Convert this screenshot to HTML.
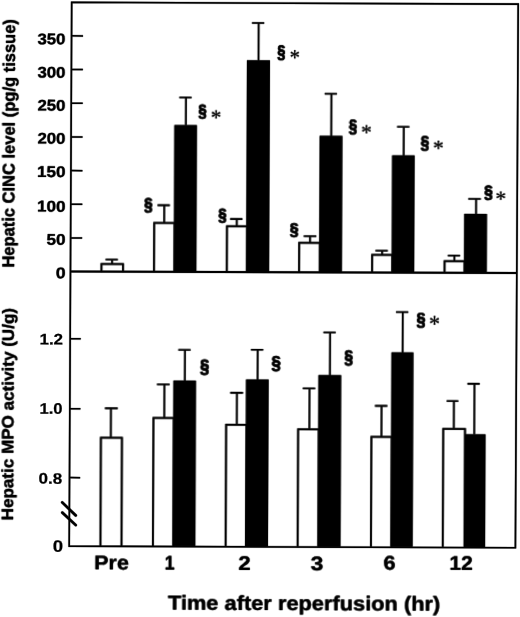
<!DOCTYPE html>
<html><head><meta charset="utf-8"><title>Figure</title>
<style>
html,body{margin:0;padding:0;background:#fff;}
body{width:520px;height:617px;overflow:hidden;}
svg{display:block;}
text{stroke:#000;stroke-linejoin:round;}
.b{font-family:"Liberation Sans",sans-serif;font-weight:bold;fill:#000;}
.s{font-family:"Liberation Serif",serif;fill:#000;}
</style></head>
<body>
<svg width="520" height="617" viewBox="0 0 520 617" text-rendering="geometricPrecision">
<rect width="520" height="617" fill="#fff"/>
<defs><filter id="soft" x="0" y="0" width="520" height="617" filterUnits="userSpaceOnUse"><feGaussianBlur stdDeviation="0.3"/></filter>
<g id="c"><g transform="rotate(0.2406 260.0 300.0)">
<path d="M101.34 272.31V264.65H122.89V272.31" fill="none" stroke="#000" stroke-width="1.75" stroke-linejoin="miter"/>
<path d="M111.94 264.27V260.22M105.43 260.22H117.63" stroke="#000" stroke-width="1.6" fill="none"/>
<path d="M153.85 272.26V223.43H174.35V272.26" fill="none" stroke="#000" stroke-width="1.75" stroke-linejoin="miter"/>
<path d="M163.84 223.05V205.60M157.20 205.60H169.40" stroke="#000" stroke-width="1.6" fill="none"/>
<rect x="173.67" y="125.41" width="22.50" height="146.82" fill="#000"/>
<path d="M185.16 125.81V97.71M178.50 97.71H190.70" stroke="#000" stroke-width="1.6" fill="none"/>
<path d="M226.66 272.19V226.27H246.76V272.19" fill="none" stroke="#000" stroke-width="1.75" stroke-linejoin="miter"/>
<path d="M236.47 225.90V219.10M229.86 219.10H242.06" stroke="#000" stroke-width="1.6" fill="none"/>
<rect x="245.94" y="60.31" width="23.00" height="211.86" fill="#000"/>
<path d="M257.51 60.71V23.01M250.84 23.01H263.04" stroke="#000" stroke-width="1.6" fill="none"/>
<path d="M298.95 272.12V242.72H319.65V272.12" fill="none" stroke="#000" stroke-width="1.75" stroke-linejoin="miter"/>
<path d="M309.75 242.35V236.05M303.48 236.05H315.98" stroke="#000" stroke-width="1.6" fill="none"/>
<rect x="318.95" y="135.55" width="22.75" height="136.55" fill="#000"/>
<path d="M330.55 135.95V93.45M323.86 93.45H336.06" stroke="#000" stroke-width="1.6" fill="none"/>
<path d="M371.97 272.05V254.41H392.22V272.05" fill="none" stroke="#000" stroke-width="1.75" stroke-linejoin="miter"/>
<path d="M381.93 254.04V250.24M375.32 250.24H387.52" stroke="#000" stroke-width="1.6" fill="none"/>
<rect x="391.54" y="154.80" width="22.50" height="117.23" fill="#000"/>
<path d="M403.08 155.20V126.30M396.42 126.30H408.62" stroke="#000" stroke-width="1.6" fill="none"/>
<path d="M444.43 271.98V260.31H464.43V271.98" fill="none" stroke="#000" stroke-width="1.75" stroke-linejoin="miter"/>
<path d="M454.27 259.94V254.69M447.66 254.69H459.86" stroke="#000" stroke-width="1.6" fill="none"/>
<rect x="463.86" y="213.00" width="22.70" height="58.97" fill="#000"/>
<path d="M475.66 213.40V198.00M467.88 198.00H480.38" stroke="#000" stroke-width="1.6" fill="none"/>
<path d="M101.48 546.93V438.35H122.53V546.93" fill="none" stroke="#000" stroke-width="1.75" stroke-linejoin="miter"/>
<path d="M111.42 437.97V408.92M105.45 408.92H118.15" stroke="#000" stroke-width="1.6" fill="none"/>
<path d="M153.94 546.89V418.33H174.34V546.89" fill="none" stroke="#000" stroke-width="1.75" stroke-linejoin="miter"/>
<path d="M164.72 417.96V384.71M157.35 384.71H169.95" stroke="#000" stroke-width="1.6" fill="none"/>
<rect x="173.79" y="380.92" width="22.50" height="165.96" fill="#000"/>
<path d="M185.22 381.32V350.32M178.56 350.32H190.76" stroke="#000" stroke-width="1.6" fill="none"/>
<path d="M226.65 546.85V424.78H246.95V546.85" fill="none" stroke="#000" stroke-width="1.75" stroke-linejoin="miter"/>
<path d="M237.36 424.40V392.90M230.69 392.90H243.39" stroke="#000" stroke-width="1.6" fill="none"/>
<rect x="246.38" y="379.51" width="22.60" height="167.32" fill="#000"/>
<path d="M257.87 379.91V349.81M251.21 349.81H263.41" stroke="#000" stroke-width="1.6" fill="none"/>
<path d="M298.66 546.81V429.23H319.36V546.81" fill="none" stroke="#000" stroke-width="1.75" stroke-linejoin="miter"/>
<path d="M309.86 428.85V388.20M303.17 388.20H315.57" stroke="#000" stroke-width="1.6" fill="none"/>
<rect x="318.78" y="374.81" width="22.70" height="171.98" fill="#000"/>
<path d="M330.28 375.21V332.21M323.59 332.21H335.79" stroke="#000" stroke-width="1.6" fill="none"/>
<path d="M371.98 546.76V436.42H392.38V546.76" fill="none" stroke="#000" stroke-width="1.75" stroke-linejoin="miter"/>
<path d="M382.01 436.04V405.39M375.44 405.39H387.74" stroke="#000" stroke-width="1.6" fill="none"/>
<rect x="391.73" y="351.80" width="21.90" height="194.94" fill="#000"/>
<path d="M402.79 352.20V311.50M396.10 311.50H408.30" stroke="#000" stroke-width="1.6" fill="none"/>
<path d="M443.76 546.72V428.01H465.56V546.72" fill="none" stroke="#000" stroke-width="1.75" stroke-linejoin="miter"/>
<path d="M454.38 427.64V400.19M447.12 400.19H458.72" stroke="#000" stroke-width="1.6" fill="none"/>
<rect x="465.10" y="433.40" width="21.00" height="113.30" fill="#000"/>
<path d="M474.76 433.80V382.90M467.85 382.90H480.05" stroke="#000" stroke-width="1.6" fill="none"/>
<text transform="translate(55.73 279.03) scale(0.17660 0.15493)" font-size="100" class="b" stroke-width="0.90">0</text>
<path d="M70.3 238.78H81.90" stroke="#000" stroke-width="1.5"/>
<text transform="translate(46.28 245.65) scale(0.17115 0.15493)" font-size="100" class="b" stroke-width="0.92">50</text>
<path d="M70.3 205.09H81.90" stroke="#000" stroke-width="1.5"/>
<text transform="translate(36.53 212.52) scale(0.17134 0.15493)" font-size="100" class="b" stroke-width="0.92">100</text>
<path d="M70.3 171.40H81.90" stroke="#000" stroke-width="1.5"/>
<text transform="translate(36.38 177.82) scale(0.17134 0.15493)" font-size="100" class="b" stroke-width="0.92">150</text>
<path d="M70.3 137.71H81.90" stroke="#000" stroke-width="1.5"/>
<text transform="translate(36.77 144.52) scale(0.16812 0.15493)" font-size="100" class="b" stroke-width="0.93">200</text>
<path d="M70.3 104.02H81.90" stroke="#000" stroke-width="1.5"/>
<text transform="translate(36.63 111.52) scale(0.16812 0.15493)" font-size="100" class="b" stroke-width="0.93">250</text>
<path d="M70.3 70.33H81.90" stroke="#000" stroke-width="1.5"/>
<text transform="translate(36.49 78.52) scale(0.16812 0.15493)" font-size="100" class="b" stroke-width="0.93">300</text>
<path d="M70.3 36.64H81.90" stroke="#000" stroke-width="1.5"/>
<text transform="translate(36.35 45.17) scale(0.16812 0.15493)" font-size="100" class="b" stroke-width="0.93">350</text>
<path d="M70.3 339.58H80.90" stroke="#000" stroke-width="1.5"/>
<path d="M70.3 409.58H80.90" stroke="#000" stroke-width="1.5"/>
<path d="M70.3 478.38H80.90" stroke="#000" stroke-width="1.5"/>
<path d="M63.05 503.23L76.71 516.27" stroke="#000" stroke-width="2.5" stroke-linecap="round"/>
<path d="M63.09 513.33L76.75 525.97" stroke="#000" stroke-width="2.5" stroke-linecap="round"/>
<text transform="translate(95.14 570.07) scale(0.21589 0.19857)" font-size="100" class="b" stroke-width="0.72">Pre</text>
<text transform="translate(165.78 570.23) scale(0.17872 0.20000)" font-size="100" class="b" stroke-width="0.79">1</text>
<text transform="translate(239.59 570.11) scale(0.22041 0.19857)" font-size="100" class="b" stroke-width="0.72">2</text>
<text transform="translate(311.77 569.82) scale(0.22857 0.19577)" font-size="100" class="b" stroke-width="0.71">3</text>
<text transform="translate(384.58 569.41) scale(0.21875 0.19577)" font-size="100" class="b" stroke-width="0.72">6</text>
<text transform="translate(450.60 569.10) scale(0.20891 0.19857)" font-size="100" class="b" stroke-width="0.74">12</text>
<text transform="translate(169.21 609.53) scale(0.21820 0.20257)" font-size="100" class="b" stroke-width="0.71">Time after reperfusion (hr)</text>
<text transform="translate(14.06 268.55) rotate(-90) scale(0.16493 0.17069)" font-size="100" class="b" stroke-width="0.89">Hepatic CINC level (pg/g tissue)</text>
<text transform="translate(14.20 521.40) rotate(-90) scale(0.17064 0.16489)" font-size="100" class="b" stroke-width="0.89">Hepatic MPO activity (U/g)</text>
<text transform="translate(143.79 210.56) scale(0.15208 0.17778)" font-size="100" class="b" stroke-width="3.64">§</text>
<text transform="translate(217.95 220.59) scale(0.14792 0.17407)" font-size="100" class="b" stroke-width="3.73">§</text>
<text transform="translate(289.59 235.13) scale(0.15729 0.17037)" font-size="100" class="b" stroke-width="3.66">§</text>
<text transform="translate(197.61 117.48) scale(0.15000 0.17407)" font-size="100" class="b" stroke-width="3.70">§</text>
<text transform="translate(276.17 57.56) scale(0.14583 0.18148)" font-size="100" class="b" stroke-width="3.67">§</text>
<text transform="translate(348.07 132.16) scale(0.15208 0.18148)" font-size="100" class="b" stroke-width="3.60">§</text>
<text transform="translate(420.03 147.77) scale(0.15417 0.18025)" font-size="100" class="b" stroke-width="3.59">§</text>
<text transform="translate(483.64 196.74) scale(0.15417 0.17778)" font-size="100" class="b" stroke-width="3.62">§</text>
<text transform="translate(200.13 373.01) scale(0.16667 0.18889)" font-size="100" class="b" stroke-width="3.38">§</text>
<text transform="translate(271.82 369.25) scale(0.16667 0.18519)" font-size="100" class="b" stroke-width="3.41">§</text>
<text transform="translate(344.42 362.54) scale(0.15833 0.18519)" font-size="100" class="b" stroke-width="3.49">§</text>
<text transform="translate(416.44 325.16) scale(0.16458 0.18272)" font-size="100" class="b" stroke-width="3.46">§</text>
<text transform="translate(210.06 124.63) scale(0.21250 0.22222)" font-size="100" class="s" stroke-width="0.00">*</text>
<text transform="translate(288.42 64.74) scale(0.21000 0.23056)" font-size="100" class="s" stroke-width="0.00">*</text>
<text transform="translate(360.30 139.34) scale(0.21750 0.21667)" font-size="100" class="s" stroke-width="0.00">*</text>
<text transform="translate(432.26 155.34) scale(0.21750 0.23056)" font-size="100" class="s" stroke-width="0.00">*</text>
<text transform="translate(494.99 205.05) scale(0.21500 0.21944)" font-size="100" class="s" stroke-width="0.00">*</text>
<text transform="translate(428.97 330.80) scale(0.22250 0.23889)" font-size="100" class="s" stroke-width="0.00">*</text>
</g>
<path d="M69.2 546.15L71.7 2.3L518.2 4.1L515.4 547.75Z" fill="none" stroke="#000" stroke-width="1.6" stroke-linejoin="miter"/>
<path d="M70.5 271.55L516.8 273.0" stroke="#000" stroke-width="1.9000000000000001"/>
</g></defs>
<g filter="url(#soft)">
<use href="#c" x="-0.55" opacity="0.22"/><use href="#c" x="0.55" opacity="0.22"/><use href="#c" y="-0.55" opacity="0.22"/><use href="#c" y="0.55" opacity="0.22"/>
<use href="#c"/>
<g transform="rotate(0.2406 260.0 300.0)">
<text transform="translate(39.65 345.48) scale(0.16977 0.15429)" font-size="100" class="b" stroke-width="1.54">1.2</text>
<text transform="translate(39.96 414.72) scale(0.16589 0.15352)" font-size="100" class="b" stroke-width="1.57">1.0</text>
<text transform="translate(39.27 484.53) scale(0.16970 0.15211)" font-size="100" class="b" stroke-width="1.55">0.8</text>
<text transform="translate(53.79 552.68) scale(0.18511 0.16620)" font-size="100" class="b" stroke-width="1.42">0</text>
</g>
</g>
</svg>
</body></html>
